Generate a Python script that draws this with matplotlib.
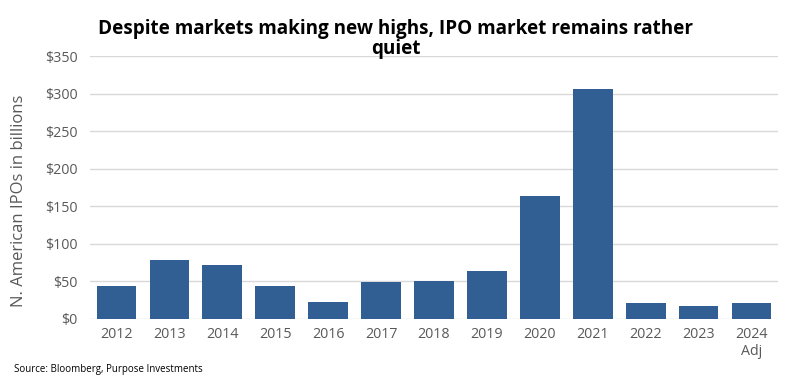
import matplotlib
matplotlib.use("Agg")
from matplotlib import pyplot as plt
import numpy as np

# IPO proceeds, N. America, $bn
years = ["2012", "2013", "2014", "2015", "2016", "2017", "2018",
         "2019", "2020", "2021", "2022", "2023", "2024\nAdj"]
proceeds = [44, 78, 72, 44, 22.5, 49, 50, 63, 164, 306, 21.5, 16.5, 21.5]
yticks = [0, 50, 100, 150, 200, 250, 300, 350]
ytick_labels = ["$" + str(v) for v in yticks]

plt.rcParams['font.family'] = ['Open Sans', 'DejaVu Sans']

fig = plt.figure(figsize=(7.92, 3.82), dpi=100)
ax = fig.add_axes([0.1136, 0.1657, 0.8687, 0.6877])

x = np.arange(len(years))
ax.bar(x, proceeds, width=0.75, color='#315F93', zorder=3)

ax.set_ylim(0, 350)
ax.set_xlim(-0.5, len(years) - 0.5)
ax.set_yticks(yticks)
ax.set_yticklabels(ytick_labels)
ax.set_xticks(x)
ax.set_xticklabels(years)
ax.grid(axis='y', color='#D9D9D9', linewidth=1, zorder=0)
for s in ax.spines.values():
    s.set_visible(False)
ax.tick_params(axis='both', length=0, labelsize=10.3, colors='#595959')
ax.tick_params(axis='y', pad=9)
ax.tick_params(axis='x', pad=6)

ax.set_ylabel("N. American IPOs in billions", fontsize=12, color='#595959')
ax.yaxis.set_label_coords(-0.092, 0.447)

fig.text(0.5, 0.95, "Despite markets making new highs, IPO market remains rather\nquiet",
         ha='center', va='top', fontsize=13.6, fontweight='bold', color='black',
         linespacing=1.0)
fig.text(0.018, 0.033, "Source: Bloomberg, Purpose Investments", fontsize=7,
         color='black', ha='left', va='center')

fig.savefig("out.png", dpi=100)
